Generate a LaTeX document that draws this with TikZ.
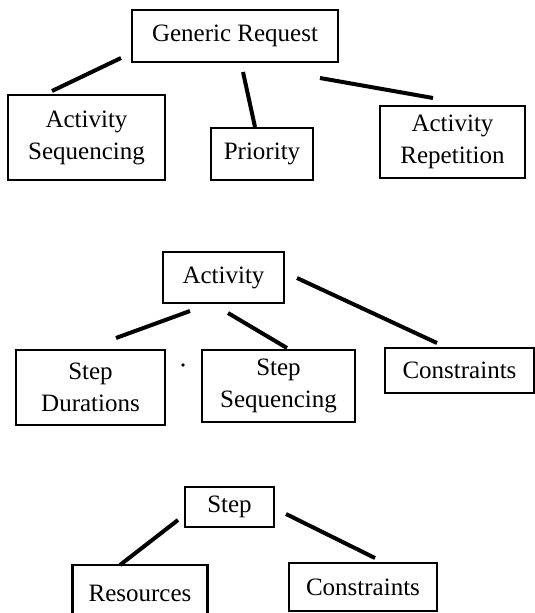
\documentclass[tikz,border=0pt]{standalone}
\usepackage{fontspec}
\setmainfont{Liberation Serif}
\begin{document}
\begin{tikzpicture}[x=1pt,y=-1pt,
  box/.style={draw=black, line width=2.8pt, inner sep=0pt, align=center,
    font=\fontsize{25}{32}\selectfont},
  link/.style={draw=black, line width=4pt}]
\useasboundingbox (0,0) rectangle (535,613);
% top tree
\node[box, minimum width=206pt, minimum height=52pt] (gr) at (235,36) {Generic Request};
\node[box, minimum width=157pt, minimum height=85pt] (as) at (86.5,137.5) {Activity\\Sequencing};
\node[box, minimum width=102pt, minimum height=52pt] (pr) at (262,154) {Priority};
\node[box, minimum width=145pt, minimum height=72pt] (ar) at (452.5,142) {Activity\\Repetition};
\coordinate (grA) at (121,58);  \coordinate (asT) at (52,91);
\coordinate (grB) at (243,72);  \coordinate (prT) at (255,127);
\coordinate (grC) at (320,78);  \coordinate (arT) at (433,98);
\draw[link] (grA) -- (asT);
\draw[link] (grB) -- (prT);
\draw[link] (grC) -- (arT);
% middle tree
\node[box, minimum width=121pt, minimum height=51pt] (act) at (223.5,277.5) {Activity};
\node[box, minimum width=149pt, minimum height=75pt] (sd) at (90.5,387.5) {Step\\Durations};
\node[box, minimum width=153pt, minimum height=72pt] (ss) at (278.5,386) {Step\\Sequencing};
\node[box, minimum width=149pt, minimum height=45pt] (co1) at (459.5,370.5) {Constraints};
\coordinate (actA) at (190,311); \coordinate (sdT) at (116,338);
\coordinate (actB) at (228,313); \coordinate (ssT) at (287,348);
\coordinate (actC) at (297,278); \coordinate (coT) at (437,343);
\draw[link] (actA) -- (sdT);
\draw[link] (actB) -- (ssT);
\draw[link] (actC) -- (coT);
\fill (183,365) circle (1.8pt);
% bottom tree
\node[box, minimum width=89pt, minimum height=40pt] (st) at (229.5,507) {Step};
\node[box, minimum width=135pt, minimum height=56pt] (res) at (140,593) {Resources};
\node[box, minimum width=148pt, minimum height=48pt] (co2) at (363,587) {Constraints};
\coordinate (stA) at (178,520); \coordinate (resT) at (120,565);
\coordinate (stB) at (286,514); \coordinate (co2T) at (375,558);
\draw[link] (stA) -- (resT);
\draw[link] (stB) -- (co2T);
\end{tikzpicture}
\end{document}
